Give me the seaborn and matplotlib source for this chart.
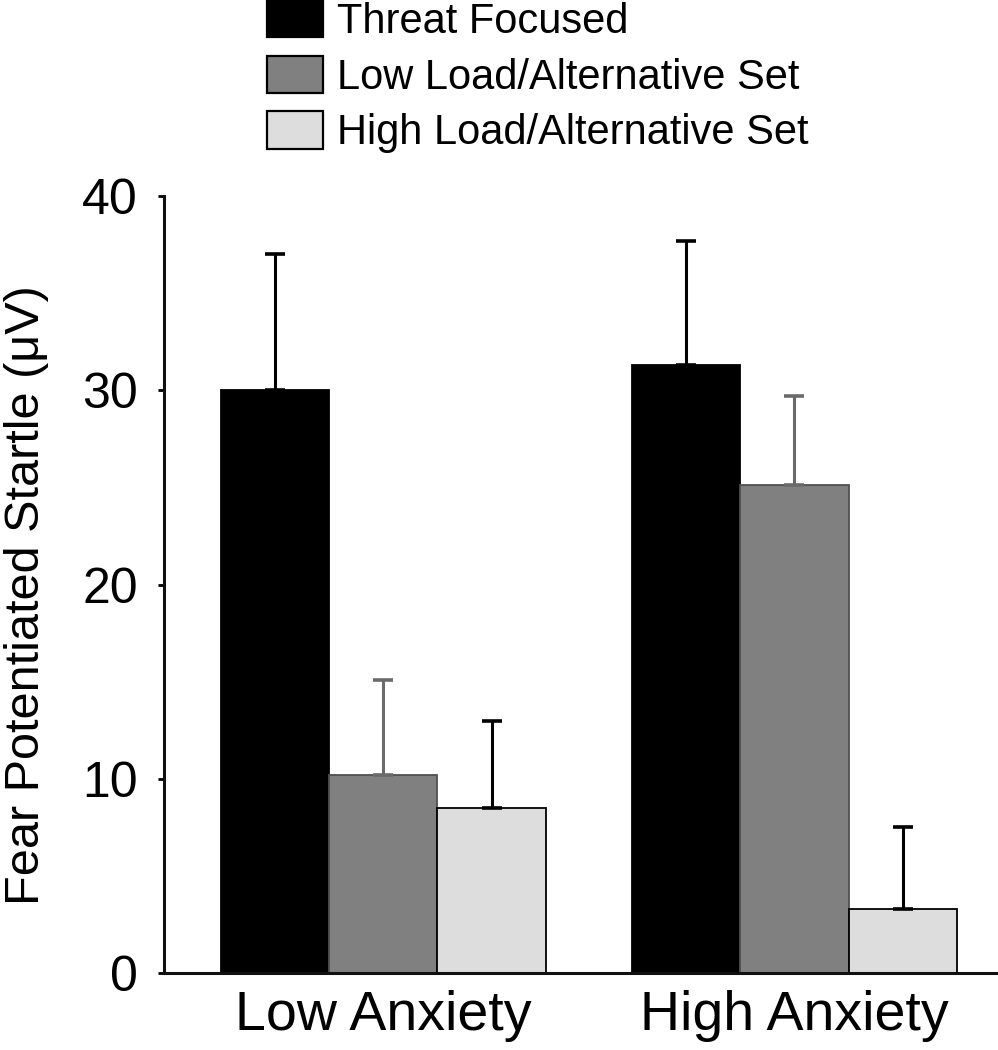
"""
Fear potentiated startle by anxiety group and attention condition,
grouped bar chart with upper-only error bars.
"""
import pandas as pd
import seaborn as sns
import matplotlib.pyplot as plt

sns.set_style('white')
plt.rcParams['font.family'] = ['Liberation Sans', 'DejaVu Sans']
plt.rcParams['text.color'] = 'black'
plt.rcParams['xtick.color'] = 'black'
plt.rcParams['ytick.color'] = 'black'
plt.rcParams['axes.labelcolor'] = 'black'

groups = ['Low Anxiety', 'High Anxiety']
conditions = ['Threat Focused', 'Low Load/Alternative Set',
              'High Load/Alternative Set']
# bar heights per condition, in group order
threat_focused = [30.0, 31.3]
low_load = [10.2, 25.1]
high_load = [8.5, 3.3]
# upper error (SEM) per condition, in group order
threat_err = [7.0, 6.4]
low_load_err = [4.9, 4.6]
high_load_err = [4.5, 4.2]

bar_colors = ['#000000', '#808080', '#dddddd']
edge_colors = ['#000000', '#505050', '#000000']
err_colors = ['#000000', '#6a6a6a', '#000000']


def build_frame():
    """long-format table for seaborn"""
    values = [threat_focused, low_load, high_load]
    errors = [threat_err, low_load_err, high_load_err]
    rows = []
    for cond, vals, errs in zip(conditions, values, errors):
        for grp, v, e in zip(groups, vals, errs):
            rows.append({'Group': grp, 'Condition': cond,
                         'Startle': v, 'Err': e})
    return pd.DataFrame(rows)


def main():
    df = build_frame()
    fig = plt.figure(figsize=(9.98, 10.5), dpi=100)
    ax = fig.add_axes([0.164, 0.0733, 0.836, 0.74])

    sns.barplot(data=df, x='Group', y='Startle', hue='Condition',
                order=groups, hue_order=conditions, palette=bar_colors,
                width=0.79, errorbar=None, ax=ax, linewidth=1.3,
                saturation=1)

    # edges and upper error bars, positioned from the drawn bars
    bar_sets = list(ax.containers)
    for i, cont in enumerate(bar_sets):
        sub = df[df['Condition'] == conditions[i]].set_index('Group')
        for bar in cont:
            bar.set_edgecolor(edge_colors[i])
        xs = [b.get_x() + b.get_width() / 2 for b in cont]
        ys = sub.loc[groups, 'Startle'].values
        errs = sub.loc[groups, 'Err'].values
        ax.errorbar(xs, ys, yerr=[[0] * len(errs), errs], fmt='none',
                    ecolor=err_colors[i], elinewidth=2.2, capsize=7,
                    capthick=2.6, zorder=1)

    handles, labels = ax.get_legend_handles_labels()
    ax.get_legend().remove()
    for h in handles:
        h.set_edgecolor('#000000')
        h.set_linewidth(1.6)
    fig.legend(handles, labels, loc='upper left',
               bbox_to_anchor=(0.268, 1.0), frameon=False, fontsize=30,
               borderpad=0, borderaxespad=0, handlelength=1.33,
               handleheight=1.0, handletextpad=0.33, labelspacing=0.33)

    ax.set_ylim(0, 40)
    ax.set_xlim(-0.534, 1.495)
    ax.set_yticks([0, 10, 20, 30, 40])
    ax.set_xlabel('')
    ax.set_ylabel('Fear Potentiated Startle (\u03bcV)', fontsize=35)
    ax.yaxis.set_label_coords(-0.137, 0.486)
    sns.despine(ax=ax)
    for side in ['left', 'bottom']:
        ax.spines[side].set_linewidth(2.2)
        ax.spines[side].set_color('#111111')
    ax.tick_params(axis='y', labelsize=36, length=4.5, width=2,
                   direction='out', pad=14, left=True)
    ax.tick_params(axis='x', labelsize=40, length=0, pad=12)

    fig.savefig('out.png', dpi=100)


if __name__ == '__main__':
    main()
